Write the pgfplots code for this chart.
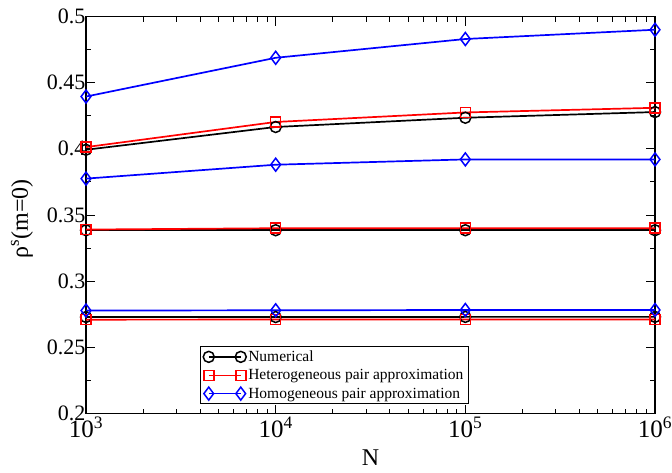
\documentclass[border=0pt]{standalone}
\usepackage{fontspec}
\setmainfont{Liberation Serif}
\usepackage{pgfplots}
\pgfplotsset{compat=1.18}
\definecolor{myred}{RGB}{255,0,0}
\definecolor{myblue}{RGB}{0,0,255}
\begin{document}
\begin{tikzpicture}
\useasboundingbox (0,0) rectangle (672pt,472pt);
\begin{axis}[
  at={(86pt,58.5pt)}, anchor=south west,
  scale only axis,
  width=569pt, height=397pt,
  xmode=log,
  xmin=1000, xmax=1000000,
  ymin=0.2, ymax=0.5,
  xtick={1000,10000,100000,1000000},
  xticklabels={10\textsuperscript{3},10\textsuperscript{4},10\textsuperscript{5},10\textsuperscript{6}},
  minor xtick={2000,3000,4000,5000,6000,7000,8000,9000,20000,30000,40000,50000,60000,70000,80000,90000,200000,300000,400000,500000,600000,700000,800000,900000},
  ytick={0.2,0.25,0.3,0.35,0.4,0.45,0.5},
  yticklabels={0.2,0.25,0.3,0.35,0.4,0.45,0.5},
  minor ytick={0.225,0.275,0.325,0.375,0.425,0.475},
  tick align=inside,
  major tick length=9pt,
  minor tick length=5pt,
  tick style={black, line width=0.9pt},
  axis line style={line width=1.3pt},
  yticklabel style={font=\fontsize{22}{24}\selectfont, xshift=3pt},
  xticklabel style={font=\fontsize{25}{27}\selectfont, yshift=0pt},
  xlabel={N},
  ylabel={ρ\textsuperscript{s}(m=0)},
  xlabel style={font=\fontsize{24}{26}\selectfont, at={(axis description cs:0.5,-0.11)}, anchor=center},
  ylabel style={font=\fontsize{24}{26}\selectfont, at={(axis description cs:-0.1125,0.49)}, anchor=center, rotate=0},
  legend style={at={(0.2,0.024)}, anchor=south west, draw=black, line width=0.9pt,
    font=\fontsize{15.5}{17}\selectfont, row sep=2.5pt, inner xsep=3pt, inner ysep=2pt},
  legend cell align=left,
  legend image code/.code={\draw[mark repeat=2, mark phase=1] plot coordinates {(0pt,0pt) (16pt,0pt) (32pt,0pt)};},
  every axis plot/.append style={line width=1.7pt, mark options={solid, line width=1.5pt}},
]
% upper group
\addplot[black, mark=o, mark size=5.5pt] coordinates {(1000,0.3993) (10000,0.4165) (100000,0.4235) (1000000,0.4278)};
\addplot[myred, mark=square, mark size=5pt] coordinates {(1000,0.4013) (10000,0.4203) (100000,0.4275) (1000000,0.4310)};
\addplot[myblue, mark=diamond, mark size=6.5pt] coordinates {(1000,0.4395) (10000,0.4688) (100000,0.4830) (1000000,0.4900)};
\legend{Numerical, Heterogeneous pair approximation, Homogeneous pair approximation}
% middle group
\addplot[black, mark=o, mark size=5.5pt, forget plot] coordinates {(1000,0.3385) (10000,0.3385) (100000,0.3385) (1000000,0.3385)};
\addplot[myred, mark=square, mark size=5pt, forget plot] coordinates {(1000,0.3390) (10000,0.3400) (100000,0.3400) (1000000,0.3400)};
\addplot[myblue, mark=diamond, mark size=6.5pt, forget plot] coordinates {(1000,0.3775) (10000,0.3880) (100000,0.3920) (1000000,0.3920)};
% lower group
\addplot[black, mark=o, mark size=5.5pt, forget plot] coordinates {(1000,0.2729) (10000,0.2729) (100000,0.2730) (1000000,0.2730)};
\addplot[myred, mark=square, mark size=5pt, forget plot] coordinates {(1000,0.2709) (10000,0.2710) (100000,0.2710) (1000000,0.2710)};
\addplot[myblue, mark=diamond, mark size=6.5pt, forget plot] coordinates {(1000,0.2778) (10000,0.2780) (100000,0.2782) (1000000,0.2782)};
\end{axis}
\end{tikzpicture}
\end{document}
